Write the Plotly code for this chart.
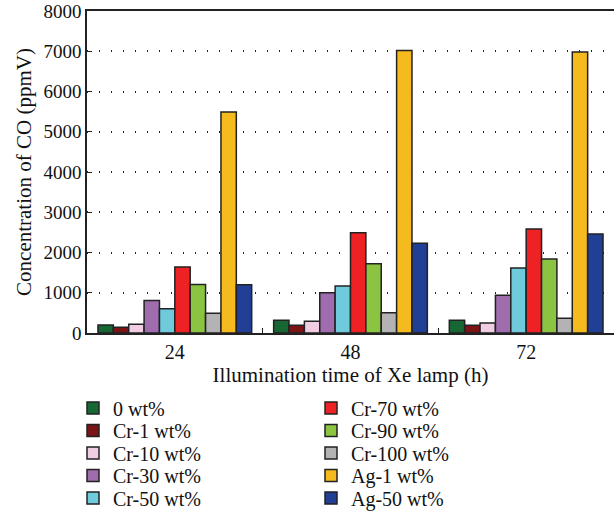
import plotly.graph_objects as go

# Illumination times (h) on the category axis
times = ["24", "48", "72"]

# Catalyst series names and bar fill colours
series_names = ["0 wt%", "Cr-1 wt%", "Cr-10 wt%", "Cr-30 wt%", "Cr-50 wt%",
                "Cr-70 wt%", "Cr-90 wt%", "Cr-100 wt%", "Ag-1 wt%", "Ag-50 wt%"]
series_colors = ["#166734", "#7a1417", "#f0cde3", "#9f6cae", "#6fcbdb",
                 "#ee2224", "#8ac441", "#b3b3b3", "#f5bb1e", "#223f96"]

# CO concentration (ppmV) at 24, 48 and 72 h for each series
co_0 = [200, 315, 315]
co_cr1 = [140, 190, 190]
co_cr10 = [220, 290, 250]
co_cr30 = [810, 1000, 935]
co_cr50 = [600, 1165, 1615]
co_cr70 = [1640, 2490, 2585]
co_cr90 = [1205, 1720, 1840]
co_cr100 = [490, 505, 365]
co_ag1 = [5490, 7020, 6980]
co_ag50 = [1200, 2230, 2460]

series_values = [co_0, co_cr1, co_cr10, co_cr30, co_cr50,
                 co_cr70, co_cr90, co_cr100, co_ag1, co_ag50]

y_ticks = [0, 1000, 2000, 3000, 4000, 5000, 6000, 7000, 8000]

FONT = "Liberation Serif"

# Plot-area geometry in pixels (used to place the legend entries)
PAGE_W, PAGE_H = 614, 514
M_L, M_R, M_T, M_B = 87, 0, 11, 181
PLOT_W = PAGE_W - M_L - M_R
PLOT_H = PAGE_H - M_T - M_B

fig = go.Figure()
legend_layouts = {}
for i, (name, color, vals) in enumerate(zip(series_names, series_colors, series_values)):
    key = "legend" if i == 0 else f"legend{i + 1}"
    fig.add_trace(go.Bar(
        x=times, y=vals, name=name,
        marker=dict(color=color, line=dict(color="#222222", width=1.5)),
        legend=key, showlegend=True,
    ))
    # two columns of five entries, filled top to bottom
    col, row = divmod(i, 5)
    left_px = 73 if col == 0 else 311
    center_px = 408 + row * 22.5
    legend_layouts[key] = dict(
        x=(left_px - M_L) / PLOT_W,
        y=(PAGE_H - M_B - center_px) / PLOT_H,
        xref="paper", yref="paper", xanchor="left", yanchor="middle",
        font=dict(family=FONT, size=20), itemwidth=30,
        bgcolor="rgba(0,0,0,0)", borderwidth=0,
    )

fig.update_layout(
    width=PAGE_W, height=PAGE_H,
    showlegend=True,
    margin=dict(l=M_L, r=M_R, t=M_T, b=M_B, autoexpand=False),
    paper_bgcolor="white", plot_bgcolor="white",
    barmode="group", bargap=0.125, bargroupgap=0,
    font=dict(family=FONT, size=19, color="#111111"),
    xaxis=dict(
        type="category", range=[-0.5, 2.5],
        showline=True, linecolor="#222222", linewidth=1.5, mirror=True,
        ticks="inside", ticklen=5, tickcolor="#222222", tickson="boundaries",
        showgrid=False,
        tickfont=dict(family=FONT, size=20),
        title=dict(text="Illumination time of Xe lamp (h)",
                   font=dict(family=FONT, size=21), standoff=6),
    ),
    yaxis=dict(
        range=[0, 8000], tickvals=y_ticks,
        showline=True, linecolor="#222222", linewidth=1.5,
        ticks="inside", ticklen=5, tickcolor="#222222",
        showgrid=True, gridcolor="#222222", gridwidth=1.5, griddash="1px,11px",
        zeroline=False,
        tickfont=dict(family=FONT, size=19),
        title=dict(text="Concentration of CO (ppmV)",
                   font=dict(family=FONT, size=21), standoff=6),
    ),
    **legend_layouts,
)

fig.write_html("out.html")
